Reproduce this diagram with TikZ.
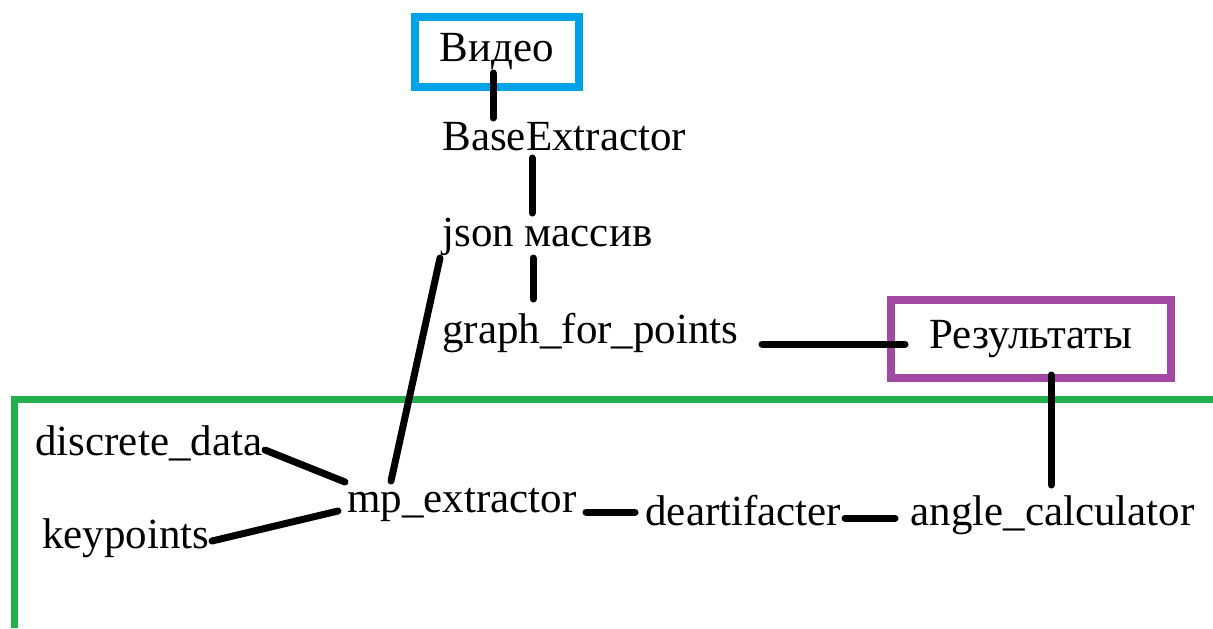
\documentclass[tikz,border=0pt]{standalone}
\usepackage{fontspec}
\setmainfont{Liberation Serif}
\usetikzlibrary{calc}
\definecolor{vblue}{HTML}{00A2E8}
\definecolor{vpurple}{HTML}{A349A4}
\definecolor{vgreen}{HTML}{22B14C}
\begin{document}
\begin{tikzpicture}[x=0.5pt,y=-0.5pt,
  lbl/.style={anchor=base west,inner sep=0pt,font=\fontsize{21.5}{24}\selectfont},
  frame/.style={draw,line width=4pt,inner sep=0pt,font=\fontsize{21.5}{24}\selectfont},
  conn/.style={line width=3.5pt,line cap=round}]
\useasboundingbox (0,0) rectangle (1213,628);
% green region
\draw[vgreen,line width=3.5pt] (1213,399) -- (14,399) -- (14,628);
% nodes
\node[frame,vblue,text=black,minimum width=82pt,minimum height=35pt] (video) at (497,52) {Видео};
\node[lbl] (base) at (442,150) {BaseExtractor};
\node[lbl] (json) at (442,246) {json массив};
\node[lbl] (graph) at (442,343) {graph\_for\_points};
\node[frame,vpurple,text=black,minimum width=140pt,minimum height=39pt] (res) at (1031,339) {Результаты};
\node[lbl] (disc) at (35,455) {discrete\_data};
\node[lbl] (keyp) at (42,548) {keypoints};
\node[lbl] (mp) at (347,512) {mp\_extractor};
\node[lbl] (dea) at (645,525) {deartifacter};
\node[lbl] (ang) at (910,525) {angle\_calculator};
% connectors
\draw[conn] ($(video.center)+(-4,21)$) -- ($(base.base west)+(51,-32)$);
\draw[conn] ($(base.base west)+(90,8)$) -- ($(json.base west)+(90,-33)$);
\draw[conn] ($(json.base west)+(91,12)$) -- ($(graph.base west)+(91,-44)$);
\draw[conn] ($(json.base west)+(-2,12)$) -- ($(mp.base west)+(44,-31)$);
\draw[conn] ($(graph.base west)+(320,1)$) -- ($(res.center)+(-126,5)$);
\draw[conn] ($(res.center)+(20,36)$) -- ($(ang.base west)+(141,-40)$);
\draw[conn] ($(disc.base west)+(230,-5)$) -- ($(mp.base west)+(-2,-30)$);
\draw[conn] ($(keyp.base west)+(170,-7)$) -- ($(mp.base west)+(-9,-1)$);
\draw[conn] ($(mp.base west)+(239,0)$) -- ($(dea.base west)+(-10,-13)$);
\draw[conn] ($(dea.base west)+(200,-7)$) -- ($(ang.base west)+(-15,-7)$);
\end{tikzpicture}
\end{document}
